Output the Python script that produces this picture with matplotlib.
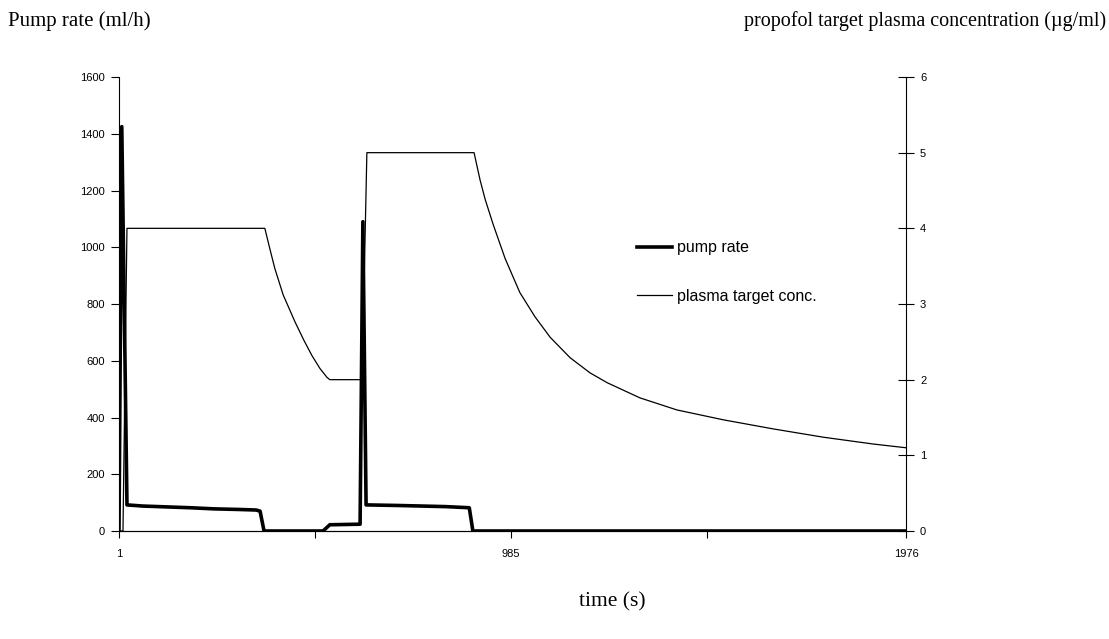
import matplotlib.pyplot as plt

# Temps (s) et débit de la pompe (ml/h)
pump_t = [1, 8, 21, 60, 120, 180, 240, 300, 345, 355, 365, 513, 530, 606,
          613, 621, 700, 760, 820, 880, 889, 1976]
pump_rate = [0, 1425, 92, 88, 85, 82, 78, 76, 74, 70, 0, 0, 22, 24,
             1090, 92, 90, 88, 86, 82, 0, 0]

# Concentration cible plasmatique (µg/ml)
conc_t = [1, 11, 21, 367, 380, 392, 413, 443, 465, 485, 505, 523, 530, 611,
          623, 892, 907, 920, 940, 970, 1007, 1045, 1083, 1133, 1183, 1226,
          1308, 1401, 1517, 1642, 1768, 1893, 1976]
conc = [0, 0, 4, 4, 3.72, 3.47, 3.12, 2.76, 2.52, 2.32, 2.15, 2.03, 2.0, 2.0,
        5, 5, 4.64, 4.38, 4.05, 3.6, 3.15, 2.83, 2.56, 2.29, 2.09, 1.96,
        1.76, 1.60, 1.47, 1.35, 1.24, 1.15, 1.10]

x_ticks = [1, 493, 985, 1477, 1976]
x_labels = ['1', '', '985', '', '1976']

fig = plt.figure(figsize=(11.09, 6.39), dpi=100)
ax = fig.add_axes([0.1073, 0.169, 0.7097, 0.7105])
ax2 = ax.twinx()

sans = 'Liberation Sans'
serif = 'Liberation Serif'

l1, = ax.plot(pump_t, pump_rate, color='black', lw=2.6, label='pump rate')
l2, = ax2.plot(conc_t, conc, color='black', lw=0.9, label='plasma target conc.')

ax.set_xlim(1, 1976)
ax.set_ylim(0, 1600)
ax2.set_ylim(0, 6)
ax.set_yticks(range(0, 1601, 200))
ax2.set_yticks(range(0, 7))
ax.set_xticks(x_ticks)
ax.set_xticklabels(x_labels)

for a in (ax, ax2):
    a.spines['top'].set_visible(False)
    for lab in a.get_xticklabels() + a.get_yticklabels():
        lab.set_fontfamily(sans)
        lab.set_fontsize(8)
ax.spines['right'].set_visible(False)
ax2.spines['left'].set_visible(False)
ax.tick_params(axis='y', direction='out', length=6, width=0.8, pad=4)
ax.tick_params(axis='x', direction='out', length=5, width=0.8, pad=8)
ax2.tick_params(axis='y', direction='inout', length=12, width=0.8, pad=4)

ax.legend(handles=[l1, l2], loc='upper left', bbox_to_anchor=(0.64, 0.672),
          frameon=False, handlelength=2.2, handletextpad=0.3,
          labelspacing=2.1, prop={'family': sans, 'size': 11.5})

fig.text(0.007, 0.967, 'Pump rate (ml/h)', family=serif, fontsize=15, va='center')
fig.text(0.997, 0.967, 'propofol target plasma concentration (µg/ml)',
         family=serif, fontsize=14.5, va='center', ha='right')
fig.text(0.552, 0.058, 'time (s)', family=serif, fontsize=15.5, ha='center', va='center')

fig.savefig('out.png', dpi=100)
